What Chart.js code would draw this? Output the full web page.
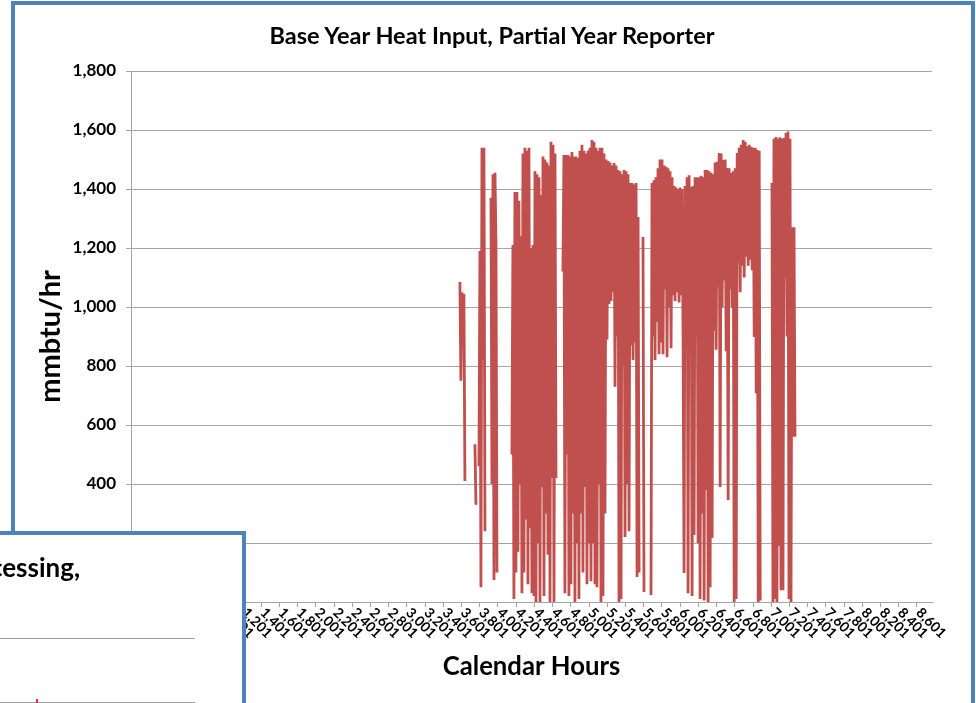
<!DOCTYPE html>
<html>
<head>
<meta charset="utf-8">
<script src="https://cdn.jsdelivr.net/npm/chart.js@4.4.1/dist/chart.umd.min.js"></script>
<style>
  html, body { margin: 0; padding: 0; background: #fff; }
  body { position: relative; width: 976px; height: 703px; overflow: hidden; font-family: Lato, "Liberation Sans", sans-serif; }
  #task-chart { position: absolute; left: 0; top: 0; }
  #title { position: absolute; left: 0; top: 19px; width: 984px; text-align: center; font-weight: bold; font-size: 23.5px; line-height: 32px; color: #000; }
  #frame { position: absolute; left: 11px; top: 1px; width: 956px; height: 760px; border: 4px solid #4f81bd; pointer-events: none; }
  #other-slide { position: absolute; left: -10px; top: 531px; width: 248px; height: 200px; background: #fff; border: 4px solid #4f81bd; overflow: hidden; }
  #other-slide .txt { position: absolute; right: 162px; top: 16px; white-space: nowrap; font-weight: bold; font-size: 26px; line-height: 32px; color: #000; }
  #other-slide .rule { position: absolute; left: 6px; width: 195px; height: 1px; background: #a0a0a0; }
  #other-slide .mark { position: absolute; left: 42px; top: 164px; width: 2px; height: 4px; background: #e03030; }
</style>
</head>
<body>
<canvas id="task-chart" width="976" height="703"></canvas>
<div id="title">Base Year Heat Input, Partial Year Reporter</div>
<div id="frame"></div>
<div id="other-slide">
  <div class="txt">Processing,</div>
  <div class="rule" style="top:103px"></div>
  <div class="rule" style="top:167px"></div>
  <div class="mark"></div>
</div>
<script>
// hours between consecutive samples
var sampleStep = 11;

var tickHours = [1, 201, 401, 601, 801, 1001, 1201, 1401, 1601, 1801, 2001, 2201, 2401, 2601, 2801,
                 3001, 3201, 3401, 3601, 3801, 4001, 4201, 4401, 4601, 4801, 5001, 5201, 5401, 5601,
                 5801, 6001, 6201, 6401, 6601, 6801, 7001, 7201, 7401, 7601, 7801, 8001, 8201, 8401, 8601];

// start hour of each reported stretch, and the mmbtu/hr values in it
var segStarts = [3583, 3748, 3792, 3924, 4154, 4714, 5593, 5681, 7009];

var segA = [1085, 750, 1050, 900, 1045, 410];
var segB = [535, 330];
var segC1 = [460, 1190, 50, 1540, 820, 1540, 240];
var segC2 = [1370, 400, 1450, 75, 1455, 1220, 100];
var segD = [500, 1210, 10, 1390, 100, 1390, 170, 1360, 400, 1240, 30, 1520, 100, 1540, 280, 1530,
            60, 1540, 250, 1200, 30, 1210, 20, 1460, 0, 1450, 200, 1440, 0, 1380, 390, 1510, 20,
            1500, 300, 1490, 160, 1480, 0, 1560, 420, 1550, 0, 1520, 420];
var segE = [1120, 1515, 30, 1515, 500, 1515, 20, 1510, 60, 1525, 300, 1510, 0, 1510, 200, 1505,
            10, 1530, 300, 1550, 100, 1530, 390, 1520, 60, 1530, 200, 1540, 70, 1566, 200, 1560,
            60, 1540, 50, 1530, 400, 1540, 0, 1540, 20, 1520, 300, 1500, 890, 1495, 1010, 1490,
            1020, 1480, 1050, 1488, 730, 1480, 900, 1464, 0, 1460, 10, 1450, 800, 1464, 220, 1460,
            400, 1450, 240, 1420, 870, 1420, 820, 1415, 880, 1420, 85, 1305, 100];
var segF = [1237, 34];
var segG = [24, 1420, 900, 1430, 820, 1440, 950, 1470, 840, 1500,
            880, 1500, 840, 1480, 1060, 1475, 830, 1470, 1000, 1460,
            860, 1440, 1040, 1410, 1020, 1405, 1050, 1400, 1015, 1405,
            1040, 1400, 900, 98, 1410, 870, 1440, 30, 1447, 865,
            1407, 20, 1410, 227, 1440, 900, 1440, 200, 1440, 10,
            1445, 300, 1440, 5, 1464, 380, 1464, 0, 1460, 50,
            1455, 217, 1450, 920, 1490, 855, 1492, 1068, 1522, 390,
            1520, 1000, 1498, 1090, 1500, 850, 1471, 346, 1470, 1060,
            1454, 1000, 1460, 0, 1470, 10, 1522, 1150, 1540, 1050,
            1550, 1140, 1566, 1100, 1560, 1170, 1545, 1140, 1550, 1160,
            1543, 1125, 1540, 898, 1540, 708, 1532, 0, 1530, 5];
var segH = [1420, 0, 1570, 10, 1576, 0, 1570, 190, 1575, 40, 1570, 40, 1573, 1100, 1590, 900,
            1595, 10, 1570, 0, 1270, 560, 1270, 560];

var segments = [segA, segB, segC1, segC2, segD, segE, segF, segG, segH];

var points = [];
segments.forEach(function (seg, s) {
    seg.forEach(function (v, i) {
        points.push({ x: segStarts[s] + i * sampleStep, y: v });
    });
    // break the line between stretches
    points.push({ x: segStarts[s] + seg.length * sampleStep, y: null });
});

var boldFont = function (size) { return { family: 'Lato', weight: 'bold', size: size }; };

var hourLabels = {
    id: 'hourLabels',
    afterDraw: function (chart) {
        var ctx = chart.ctx;
        var xs = chart.scales.x;
        ctx.save();
        ctx.font = 'bold 14px Lato';
        ctx.fillStyle = '#000';
        ctx.textAlign = 'left';
        ctx.textBaseline = 'middle';
        tickHours.forEach(function (h) {
            var px = xs.getPixelForValue(h);
            ctx.save();
            ctx.translate(px, 609);
            ctx.rotate(Math.PI / 4);
            ctx.fillText(h.toLocaleString('en-US'), 2, 0);
            ctx.restore();
        });
        ctx.restore();
    }
};

var canvas = document.getElementById('task-chart');
var ctx = canvas.getContext('2d');

new Chart(ctx, {
    type: 'line',
    data: {
        datasets: [{
            data: points,
            borderColor: '#c0504d',
            borderWidth: 2.8,
            pointRadius: 0,
            tension: 0,
            spanGaps: false
        }]
    },
    options: {
        responsive: false,
        animation: false,
        layout: { padding: { top: 71, left: 0, right: 44, bottom: 0 } },
        plugins: {
            legend: { display: false },
            tooltip: { enabled: false }
        },
        scales: {
            x: {
                type: 'linear',
                min: -28,
                max: 8766,
                afterBuildTicks: function (axis) {
                    axis.ticks = tickHours.map(function (v) { return { value: v }; });
                },
                afterFit: function (axis) { axis.height = 101; },
                ticks: { display: false },
                grid: { drawOnChartArea: false, drawTicks: true, tickLength: 5, color: '#a6a6a6' },
                border: { color: '#a6a6a6' },
                title: {
                    display: true,
                    text: 'Calendar Hours',
                    color: '#000',
                    font: boldFont(25.7),
                    padding: { top: 4, bottom: 21 }
                }
            },
            y: {
                min: 0,
                max: 1800,
                afterFit: function (axis) { axis.width = 131; },
                ticks: { stepSize: 200, padding: 10, color: '#000', font: boldFont(17) },
                grid: { color: '#a6a6a6', tickLength: 5 },
                border: { color: '#a6a6a6' },
                title: {
                    display: true,
                    text: 'mmbtu/hr',
                    color: '#000',
                    font: boldFont(29),
                    padding: { top: 33.5, bottom: 0 }
                }
            }
        }
    },
    plugins: [hourLabels]
});
</script>
</body>
</html>
